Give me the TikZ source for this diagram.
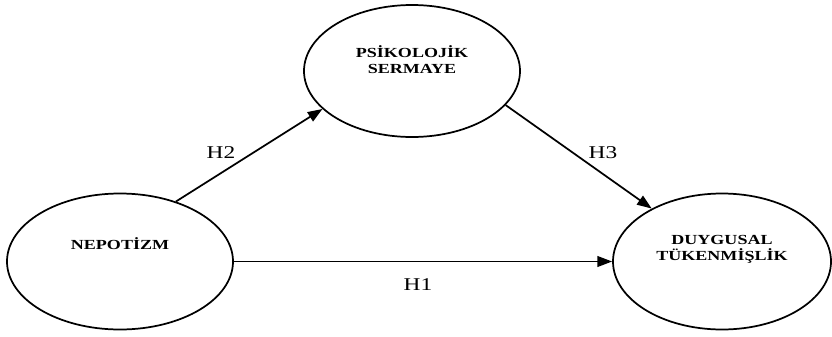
\documentclass[tikz,border=0pt]{standalone}
\usepackage{fontspec}
\setmainfont{Liberation Serif}[FakeStretch=1.3]
\usetikzlibrary{shapes.geometric, arrows.meta, positioning}

\begin{document}
\begin{tikzpicture}[
    x=0.75pt, y=-0.75pt,
    var/.style={ellipse, draw, line width=1.3pt, inner sep=0pt},
    vartext/.style={font=\fontsize{10.4}{12}\selectfont\bfseries, align=center},
    hyp/.style={font=\fontsize{13.5}{16}\selectfont},
    arrow/.style={-{Triangle[length=11pt, width=8pt]}, line width=1.3pt}
]
\useasboundingbox (0,0) rectangle (832,336);

\node[var, minimum width=169.5pt, minimum height=102pt,
      label={[vartext, yshift=13.5pt]center:NEPOTİZM}] (nep) at (120,261.5) {};
\node[var, minimum width=162pt, minimum height=99pt,
      label={[vartext, yshift=8.25pt]center:PSİKOLOJİK\\SERMAYE}] (psi) at (412,71) {};
\node[var, minimum width=163.5pt, minimum height=102pt,
      label={[vartext, yshift=9pt]center:DUYGUSAL\\TÜKENMİŞLİK}] (duy) at (722,261.5) {};

\draw[arrow] (nep.east) -- (duy.west);
\draw[arrow] (nep.47) -- (psi.203);
\draw[arrow] (psi.340) -- (duy.143);

\node[hyp] (h1) at (418,285) {H1};
\node[hyp] (h2) at (221,153) {H2};
\node[hyp] (h3) at (603,153) {H3};

\end{tikzpicture}
\end{document}
